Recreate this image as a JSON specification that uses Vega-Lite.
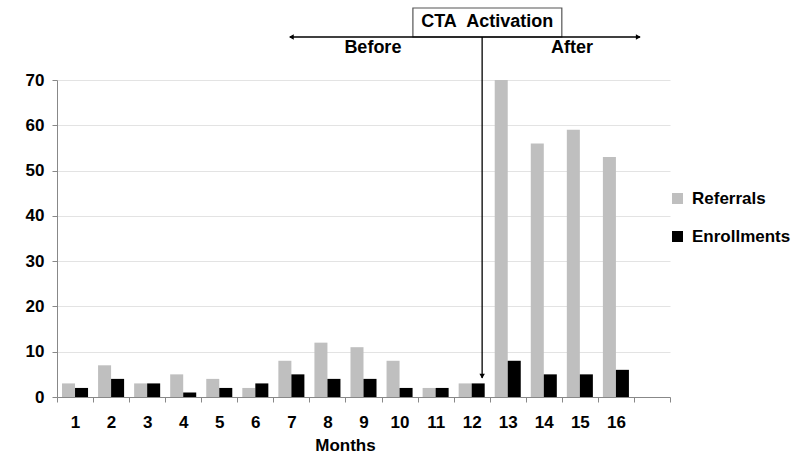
{
  "$schema": "https://vega.github.io/schema/vega-lite/v6.json",
  "width": 613,
  "height": 317,
  "autosize": {"type": "none"},
  "padding": {"left": 57, "top": 80, "right": 130, "bottom": 67},
  "background": "white",
  "config": {
    "view": {"stroke": null},
    "font": "Liberation Sans",
    "axisY": {
      "labelFontSize": 17, "labelFontWeight": "bold", "labelColor": "black", "labelPadding": 8,
      "tickSize": 5, "tickColor": "#888888", "domainColor": "#888888", "gridColor": "#e3e3e3"
    }
  },
  "datasets": {
    "counts": [
      {"month": 1, "series": "Referrals", "value": 3}, {"month": 1, "series": "Enrollments", "value": 2},
      {"month": 2, "series": "Referrals", "value": 7}, {"month": 2, "series": "Enrollments", "value": 4},
      {"month": 3, "series": "Referrals", "value": 3}, {"month": 3, "series": "Enrollments", "value": 3},
      {"month": 4, "series": "Referrals", "value": 5}, {"month": 4, "series": "Enrollments", "value": 1},
      {"month": 5, "series": "Referrals", "value": 4}, {"month": 5, "series": "Enrollments", "value": 2},
      {"month": 6, "series": "Referrals", "value": 2}, {"month": 6, "series": "Enrollments", "value": 3},
      {"month": 7, "series": "Referrals", "value": 8}, {"month": 7, "series": "Enrollments", "value": 5},
      {"month": 8, "series": "Referrals", "value": 12}, {"month": 8, "series": "Enrollments", "value": 4},
      {"month": 9, "series": "Referrals", "value": 11}, {"month": 9, "series": "Enrollments", "value": 4},
      {"month": 10, "series": "Referrals", "value": 8}, {"month": 10, "series": "Enrollments", "value": 2},
      {"month": 11, "series": "Referrals", "value": 2}, {"month": 11, "series": "Enrollments", "value": 2},
      {"month": 12, "series": "Referrals", "value": 3}, {"month": 12, "series": "Enrollments", "value": 3},
      {"month": 13, "series": "Referrals", "value": 70}, {"month": 13, "series": "Enrollments", "value": 8},
      {"month": 14, "series": "Referrals", "value": 56}, {"month": 14, "series": "Enrollments", "value": 5},
      {"month": 15, "series": "Referrals", "value": 59}, {"month": 15, "series": "Enrollments", "value": 5},
      {"month": 16, "series": "Referrals", "value": 53}, {"month": 16, "series": "Enrollments", "value": 6}
    ],
    "hline": [{"x": 6.46, "x2": 16.17, "y": 79.5}],
    "vline": [{"x": 11.79, "y": 4.2, "y2": 79.5}],
    "heads": [
      {"end": "left", "x": 6.5, "y": 79.5},
      {"end": "right", "x": 16.12, "y": 79.5},
      {"end": "down", "x": 11.79, "y": 4.6}
    ],
    "box": [{"x": 9.87, "x2": 14.0, "y": 79.5, "y2": 85.9}],
    "labels": [
      {"label": "CTA\u00a0 Activation", "x": 11.93, "y": 82.8},
      {"label": "Before", "x": 8.76, "y": 77.0},
      {"label": "After", "x": 14.28, "y": 77.0}
    ]
  },
  "layer": [
    {
      "data": {"name": "counts"},
      "mark": {"type": "bar"},
      "encoding": {
        "x": {
          "field": "month", "type": "ordinal",
          "scale": {"domain": [1,2,3,4,5,6,7,8,9,10,11,12,13,14,15,16,17], "paddingInner": 0, "paddingOuter": 0},
          "axis": {
            "title": "Months", "titleFontSize": 17, "titleFontWeight": "bold", "titleColor": "black", "titlePadding": 7, "titleX": 288,
            "labelAngle": 0, "labelFontSize": 17, "labelFontWeight": "bold", "labelColor": "black", "labelPadding": 12,
            "labelExpr": "datum.value == 17 ? '' : datum.label",
            "tickBand": "extent", "tickSize": 5, "tickColor": "#888888", "domainColor": "#888888", "grid": false
          }
        },
        "xOffset": {
          "field": "series", "type": "nominal",
          "scale": {"domain": ["Referrals", "Enrollments"], "paddingInner": 0, "paddingOuter": 0.385}
        },
        "y": {
          "field": "value", "type": "quantitative",
          "scale": {"domain": [0, 70], "nice": false},
          "axis": {"title": null, "values": [0,10,20,30,40,50,60,70]}
        },
        "color": {
          "field": "series", "type": "nominal",
          "scale": {"domain": ["Referrals", "Enrollments"], "range": ["#bfbfbf", "#000000"]},
          "legend": {
            "title": null, "orient": "none", "legendX": 612, "legendY": 110,
            "symbolType": "square", "symbolSize": 121, "symbolStrokeWidth": 0,
            "labelFontSize": 17, "labelFontWeight": "bold", "labelColor": "black",
            "rowPadding": 20, "labelOffset": 6
          }
        }
      }
    },
    {
      "data": {"name": "box"},
      "mark": {"type": "rect", "fill": "white", "stroke": "#555555", "strokeWidth": 1.2},
      "encoding": {
        "x": {"field": "x", "type": "quantitative", "scale": {"domain": [0, 17], "nice": false, "zero": false}, "axis": null},
        "x2": {"field": "x2"},
        "y": {"field": "y", "type": "quantitative", "scale": {"domain": [0, 70], "nice": false}, "axis": {"title": null, "values": [0,10,20,30,40,50,60,70]}},
        "y2": {"field": "y2"}
      }
    },
    {
      "data": {"name": "hline"},
      "mark": {"type": "rule", "color": "black", "strokeWidth": 1.3},
      "encoding": {
        "x": {"field": "x", "type": "quantitative", "scale": {"domain": [0, 17], "nice": false, "zero": false}, "axis": null},
        "x2": {"field": "x2"},
        "y": {"field": "y", "type": "quantitative", "scale": {"domain": [0, 70], "nice": false}, "axis": {"title": null, "values": [0,10,20,30,40,50,60,70]}}
      }
    },
    {
      "data": {"name": "vline"},
      "mark": {"type": "rule", "color": "black", "strokeWidth": 1.3},
      "encoding": {
        "x": {"field": "x", "type": "quantitative", "scale": {"domain": [0, 17], "nice": false, "zero": false}, "axis": null},
        "y": {"field": "y", "type": "quantitative", "scale": {"domain": [0, 70], "nice": false}, "axis": {"title": null, "values": [0,10,20,30,40,50,60,70]}},
        "y2": {"field": "y2"}
      }
    },
    {
      "data": {"name": "heads"},
      "mark": {"type": "point", "filled": true, "color": "black", "size": 30, "opacity": 1},
      "encoding": {
        "x": {"field": "x", "type": "quantitative", "scale": {"domain": [0, 17], "nice": false, "zero": false}, "axis": null},
        "y": {"field": "y", "type": "quantitative", "scale": {"domain": [0, 70], "nice": false}, "axis": {"title": null, "values": [0,10,20,30,40,50,60,70]}},
        "shape": {"field": "end", "type": "nominal", "scale": {"domain": ["left", "right", "down"], "range": ["triangle-left", "triangle-right", "triangle-down"]}, "legend": null}
      }
    },
    {
      "data": {"name": "labels"},
      "mark": {"type": "text", "font": "Liberation Sans", "fontSize": 18, "fontWeight": "bold", "color": "black", "align": "center", "baseline": "middle"},
      "encoding": {
        "x": {"field": "x", "type": "quantitative", "scale": {"domain": [0, 17], "nice": false, "zero": false}, "axis": null},
        "y": {"field": "y", "type": "quantitative", "scale": {"domain": [0, 70], "nice": false}, "axis": {"title": null, "values": [0,10,20,30,40,50,60,70]}},
        "text": {"field": "label"}
      }
    }
  ],
  "resolve": {"scale": {"x": "independent"}}
}
